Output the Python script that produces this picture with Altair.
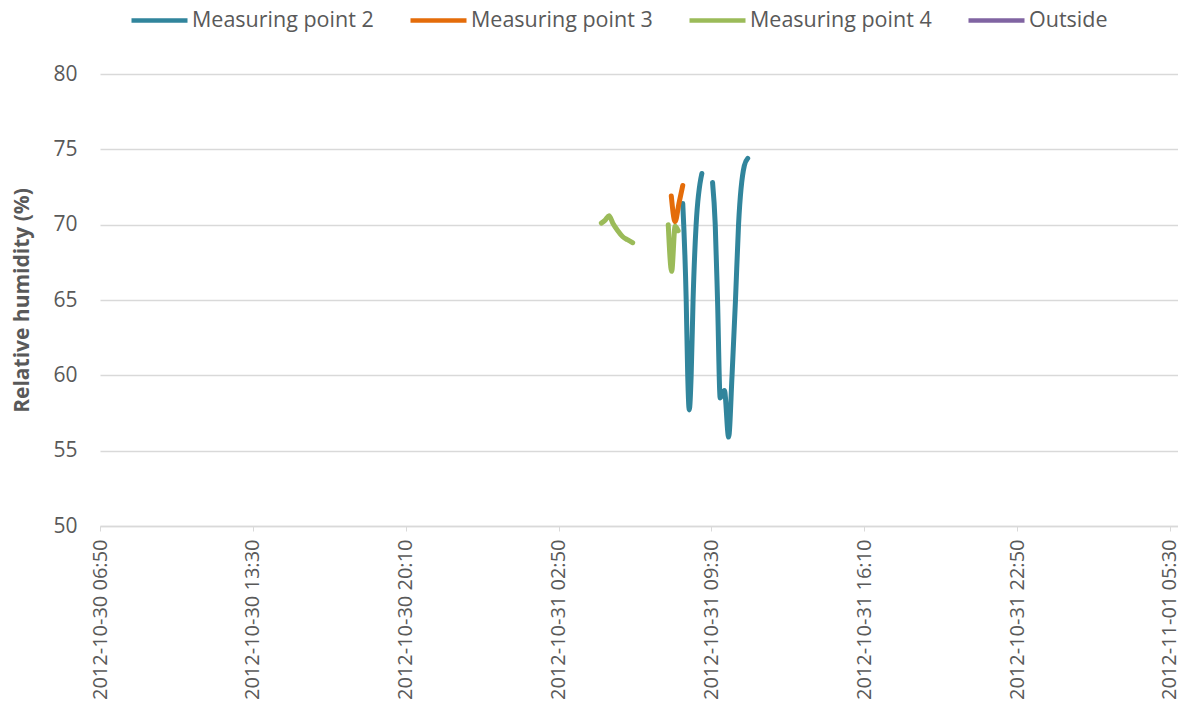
import altair as alt
import pandas as pd

SERIES = ["Measuring point 2", "Measuring point 3", "Measuring point 4", "Outside"]
COLORS = ["#31859C", "#E46C0A", "#9BBB59", "#8064A2"]

# Measuring point 2 (two separate runs)
mp2_a_time = ["08:15", "08:24", "08:28", "08:32", "08:37", "08:42", "08:50", "09:05"]
mp2_a_val = [71.4, 65.0, 60.0, 57.7, 60.0, 65.0, 70.0, 73.4]
mp2_b_time = ["09:33", "09:40", "09:46", "09:53", "10:04", "10:15", "10:24", "10:33", "10:41", "10:56", "11:05"]
mp2_b_val = [72.8, 70.0, 65.0, 58.5, 59.0, 55.9, 60.0, 65.0, 70.0, 73.9, 74.4]

# Measuring point 3
mp3_time = ["07:45", "07:55", "08:05", "08:15"]
mp3_val = [71.9, 70.2, 71.4, 72.6]

# Measuring point 4 (two separate runs)
mp4_a_time = ["04:42", "04:52", "05:02", "05:12", "05:25", "05:38", "05:50", "06:04"]
mp4_a_val = [70.1, 70.3, 70.6, 70.1, 69.6, 69.2, 69.0, 68.8]
mp4_b_time = ["07:37", "07:46", "07:55", "08:03"]
mp4_b_val = [70.0, 66.9, 69.9, 69.6]

DAY = "2012-10-31"

rows = []
def add(series, seg, times, vals):
    for t, v in zip(times, vals):
        rows.append({"series": series, "seg": seg, "t": f"{DAY}T{t}:00Z", "rh": v})

add("Measuring point 2", "a", mp2_a_time, mp2_a_val)
add("Measuring point 2", "b", mp2_b_time, mp2_b_val)
add("Measuring point 3", "a", mp3_time, mp3_val)
add("Measuring point 4", "a", mp4_a_time, mp4_a_val)
add("Measuring point 4", "b", mp4_b_time, mp4_b_val)
df = pd.DataFrame(rows)

tick_times = [(2012, 10, 30, 6, 50), (2012, 10, 30, 13, 30), (2012, 10, 30, 20, 10),
              (2012, 10, 31, 2, 50), (2012, 10, 31, 9, 30), (2012, 10, 31, 16, 10),
              (2012, 10, 31, 22, 50), (2012, 11, 1, 5, 30)]
ticks = [alt.DateTime(year=y, month=m, date=d, hours=h, minutes=mi, utc=True)
         for (y, m, d, h, mi) in tick_times]
domain_end = alt.DateTime(year=2012, month=11, date=1, hours=5, minutes=51, utc=True)

TXT = "#595959"
FONT = "Open Sans"

chart = alt.Chart(df).mark_line(strokeWidth=5, strokeCap="round", strokeJoin="round",
                                interpolate="monotone").encode(
    x=alt.X("t:T",
            scale=alt.Scale(type="utc", domain=[ticks[0], domain_end], nice=False),
            axis=alt.Axis(values=ticks,
                          labelExpr="utcFormat(datum.value, '%Y-%m-%d %H:%M')",
                          labelAngle=270, labelFontSize=20, labelColor=TXT, labelFont=FONT,
                          labelPadding=8, tickSize=5, tickColor="#d9d9d9",
                          domainColor="#d9d9d9", domainWidth=1.5, grid=False, title=None,
                          labelOverlap=False, labelBound=False, labelFlush=False,
                          labelLimit=400)),
    y=alt.Y("rh:Q",
            scale=alt.Scale(domain=[50, 80], nice=False, zero=False),
            axis=alt.Axis(values=[50, 55, 60, 65, 70, 75, 80], title="Relative humidity (%)",
                          titleFont=FONT, titleFontSize=21, titleFontWeight="bold",
                          titleColor=TXT, titlePadding=20,
                          labelFont=FONT, labelFontSize=21, labelColor=TXT, labelPadding=23,
                          ticks=False, domain=False, gridColor="#d9d9d9", gridWidth=1.5)),
    color=alt.Color("series:N",
                    scale=alt.Scale(domain=SERIES, range=COLORS),
                    legend=alt.Legend(title=None, orient="none", direction="horizontal",
                                      legendX=29, legendY=-84, symbolType="stroke",
                                      symbolSize=3136, symbolStrokeWidth=4.5,
                                      labelFont=FONT, labelFontSize=21.5, labelColor=TXT,
                                      labelOffset=2, columnPadding=27, labelLimit=400)),
    detail="seg:N",
).properties(
    width=1078, height=452,
    autosize=alt.AutoSizeParams(type="none"),
    padding={"left": 92, "top": 66, "right": 0, "bottom": 175},
).configure(background="white").configure_view(strokeWidth=0)

chart.save("out.html", embed_options={"renderer": "svg", "actions": False})
